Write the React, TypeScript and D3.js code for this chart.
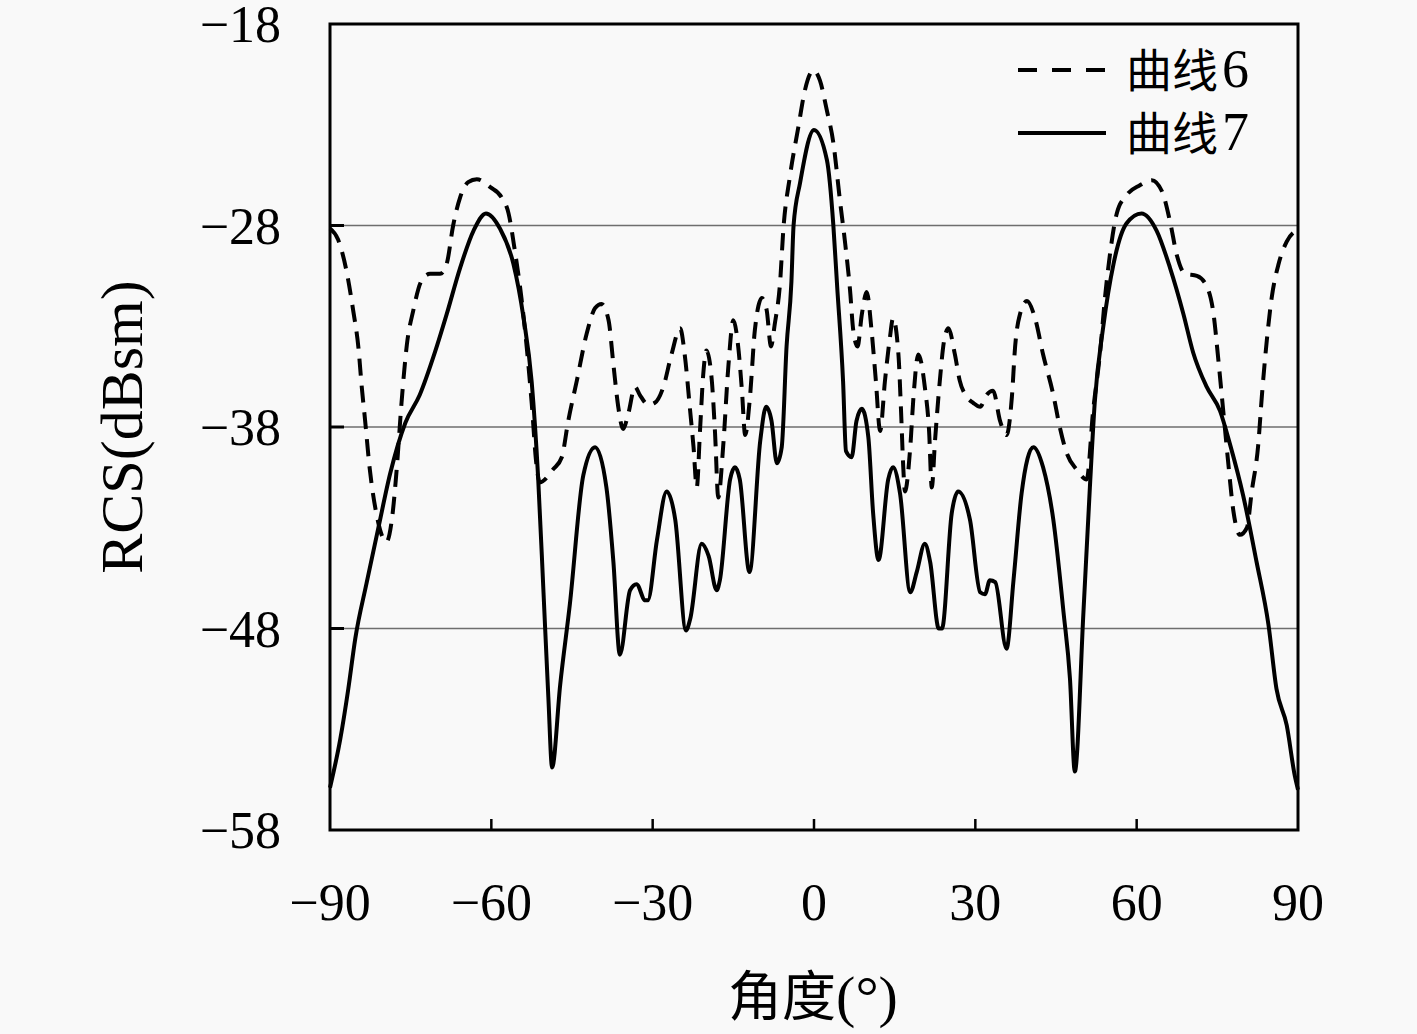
import React from "react";
import * as d3 from "d3";

const xTicks = [-90, -60, -30, 0, 30, 60, 90];
const yTicks = [-58, -48, -38, -28, -18];
const gridValues = [-28, -38, -48];

const seriesNames = ["曲线", "曲线"];
const seriesNums = ["6", "7"];

const c6Angle = [-90, -88.5, -86.9, -85.7, -84.7, -84.1, -83.5, -82.6, -81.3, -79.5, -78.5, -77.6, -76.7, -75.7, -74.5, -73, -71.4, -69.5, -68.3, -67.1, -65.8, -64.3, -62.7, -60.2, -58.1, -56.8, -55.6, -54.4, -53.4, -52.5, -51.6, -51, -48.5, -46.9, -45.7, -44.1, -42.3, -40.7, -39.5, -38.2, -37.3, -36.4, -35.5, -34.5, -33.3, -32.4, -30.8, -29.6, -28, -26.5, -24.9, -24, -23.1, -22.4, -21.8, -21.2, -20.6, -20, -19, -18.4, -17.8, -16.9, -15.9, -15, -14.1, -13.4, -12.8, -11.9, -11, -9.7, -8.8, -8, -7.3, -6.3, -5.7, -4.5, -2.9, -1.7, -0.1, 1.1, 2.4, 3.6, 4.8, 5.8, 6.7, 7.3, 8.1, 8.9, 9.8, 10.7, 11.5, 12.3, 13.2, 14.1, 14.7, 15.7, 16.2, 16.6, 16.9, 17.9, 18.5, 19.4, 20.6, 21.4, 21.9, 22.5, 23.4, 24.2, 25, 26.2, 27.1, 28.4, 29.6, 30.9, 32.1, 33.3, 34.6, 35.8, 36.8, 37.4, 38.3, 39.6, 41.1, 42.6, 44.5, 45.7, 47, 48.8, 50.7, 51.9, 53.2, 54.1, 55, 56.3, 58.1, 60.6, 62.8, 64.7, 66.2, 67.5, 69, 71.2, 73, 74.3, 75.2, 76.1, 77, 78, 79.2, 80.5, 81.4, 82.6, 83.3, 84.2, 85.1, 86.4, 87.9, 90];
const c6Value = [-28.15, -28.7, -30.3, -32.2, -34.1, -36, -37.6, -40.1, -42.4, -43.7, -42.6, -40.1, -36.8, -33.9, -32.2, -30.75, -30.4, -30.4, -29.9, -28, -26.6, -25.85, -25.7, -26.1, -26.6, -27.4, -29.3, -31.6, -34.1, -36.8, -39.9, -40.75, -40.1, -39.5, -37.7, -35.7, -33.4, -32.1, -31.9, -32.7, -34.9, -37, -38.1, -37.3, -36, -36.4, -36.9, -36.8, -36, -34.4, -33.1, -34.5, -37, -39, -41, -38.2, -35.4, -34.2, -35.7, -38.3, -41.5, -39, -34.9, -32.7, -34, -36.2, -38.4, -36.5, -33.2, -31.6, -32.2, -34, -32.9, -30.8, -28.2, -25.6, -23.1, -21.3, -20.3, -20.8, -22.3, -23.9, -26.7, -28.9, -31.2, -33.2, -34, -32.4, -31.3, -33.2, -35.7, -38.2, -35.7, -33.6, -32.6, -34.4, -37.3, -40, -41.2, -39, -36.5, -34.4, -36, -38.2, -41, -38.7, -35.7, -33.7, -33.1, -34.4, -35.7, -36.5, -36.8, -37, -36.4, -36.2, -37.7, -38.4, -36.5, -34, -32.4, -31.75, -32.6, -34.4, -36.4, -38, -39.3, -40.1, -40.6, -37.2, -34.3, -31.6, -29.5, -27.4, -26.5, -26, -25.75, -26.3, -27.8, -29.5, -30.4, -30.5, -31, -32.4, -34.7, -37.2, -39.7, -42.2, -43.35, -43, -41.2, -38.9, -36.4, -33.7, -31.6, -29.9, -28.8, -28.2];

const c7Angle = [-90, -88.1, -86.6, -85.3, -83.2, -81, -78.8, -76, -73.3, -70.5, -68.3, -65.8, -63.3, -61, -58.4, -55.9, -54, -52.5, -51.3, -50.3, -49.4, -48.7, -47.2, -45.4, -42.9, -40.7, -38.6, -37.3, -36.1, -34.2, -33, -31.4, -30.9, -29.2, -27.4, -25.8, -23.8, -23, -20.9, -19.6, -18.1, -17.5, -15.6, -14.7, -13.8, -12, -10, -8.9, -7.9, -6.9, -6, -5.1, -4.2, -3.8, -2.6, 0, 2.4, 3.6, 4.3, 5.4, 5.95, 7, 7.9, 8.9, 10.1, 11, 12, 13.8, 14.7, 16, 17.9, 19.1, 20.6, 21.6, 23.2, 23.8, 25.6, 26.8, 29, 30.9, 31.8, 32.7, 33.7, 35.8, 37.1, 38.6, 40.8, 42.6, 44.5, 46.4, 47.6, 48.5, 50.1, 51.3, 52.2, 53.8, 55.7, 58.1, 60.9, 63.7, 66.2, 68.7, 70.5, 73, 75.5, 77.4, 79.8, 82.3, 84.5, 86, 87.9, 89.4, 90];
const c7Value = [-55.9, -53.5, -51, -48.5, -45.75, -43, -40.3, -37.8, -36.4, -34.3, -32.4, -30.1, -28.25, -27.4, -28.15, -29.9, -32.6, -35.75, -40.5, -46.2, -51.4, -54.9, -50.8, -46.8, -40.4, -39, -41, -44.7, -49.3, -46.1, -45.8, -46.6, -46.6, -43.6, -41.2, -42.6, -48.1, -47.5, -43.8, -44.4, -46.1, -45.6, -40.6, -40, -40.6, -45.2, -38.7, -37, -37.7, -39.8, -39, -34, -30.8, -28, -25.9, -23.26, -24.75, -28, -31, -35.7, -39.2, -39.5, -37.7, -37.1, -38.5, -42.3, -44.6, -40.6, -40, -41.3, -46.2, -45.2, -43.8, -44.7, -48, -48, -42.3, -41.2, -42.6, -46.2, -46.3, -45.6, -45.7, -49, -45.6, -41.3, -39, -40, -42.6, -47.2, -50.5, -55.1, -47.2, -41, -36.8, -33, -29.9, -27.9, -27.4, -28.25, -30.1, -32.4, -34.3, -36, -37.2, -38.9, -41.4, -44.7, -47.8, -51, -52.8, -55.3, -56];

const W = 1417;
const H = 1034;
const L = 330;
const R = 1298;
const T = 24;
const B = 830;

const serif = "'Liberation Serif', 'DejaVu Serif', serif";
const cjk = "'Noto Sans CJK SC', sans-serif";

export default function App() {
  const x = d3.scaleLinear().domain([-90, 90]).range([L, R]);
  const y = d3.scaleLinear().domain([-58, -18]).range([B, T]);
  const line = d3
    .line<[number, number]>()
    .x((d) => x(d[0]))
    .y((d) => y(d[1]))
    .curve(d3.curveMonotoneX);
  const d6 = line(c6Angle.map((a, i) => [a, c6Value[i]] as [number, number])) || "";
  const d7 = line(c7Angle.map((a, i) => [a, c7Value[i]] as [number, number])) || "";
  const fmt = (v: number) => (v < 0 ? "\u2212" + Math.abs(v) : String(v));

  return (
    <svg
      width={W}
      height={H}
      style={{ position: "absolute", left: 0, top: 0 }}
      xmlns="http://www.w3.org/2000/svg"
    >
      <rect x={0} y={0} width={W} height={H} fill="#f9f9f9" />
      {gridValues.map((g) => (
        <line key={g} x1={L} x2={R} y1={y(g)} y2={y(g)} stroke="#6e6e6e" strokeWidth={1.6} />
      ))}
      {gridValues.map((g) => (
        <line key={"yt" + g} x1={L} x2={L + 14} y1={y(g)} y2={y(g)} stroke="#000" strokeWidth={3} />
      ))}
      {xTicks.slice(1, -1).map((t) => (
        <line key={"xt" + t} x1={x(t)} x2={x(t)} y1={B} y2={B - 11} stroke="#000" strokeWidth={2.5} />
      ))}
      <path d={d6} fill="none" stroke="#000" strokeWidth={4} strokeDasharray="17,10" />
      <path d={d7} fill="none" stroke="#000" strokeWidth={4} />
      <rect x={L} y={T} width={R - L} height={B - T} fill="none" stroke="#000" strokeWidth={3} />
      {yTicks.map((t) => (
        <text
          key={"yl" + t}
          x={281}
          y={y(t) + 18}
          textAnchor="end"
          fontFamily={serif}
          fontSize={52}
          fill="#000"
        >
          {fmt(t)}
        </text>
      ))}
      {xTicks.map((t) => (
        <text
          key={"xl" + t}
          x={x(t)}
          y={920}
          textAnchor="middle"
          fontFamily={serif}
          fontSize={52}
          fill="#000"
        >
          {fmt(t)}
        </text>
      ))}
      <text x={813} y={1016} textAnchor="middle" fill="#000">
        <tspan fontFamily={cjk} fontSize={54}>角度</tspan>
        <tspan fontFamily={serif} fontSize={58}>(°)</tspan>
      </text>
      <text
        transform={`translate(142, ${y(-38)}) rotate(-90)`}
        textAnchor="middle"
        fontFamily={serif}
        fontSize={60}
        fill="#000"
      >
        RCS(dBsm)
      </text>
      <line x1={1018} x2={1106} y1={70} y2={70} stroke="#000" strokeWidth={4} strokeDasharray="19,15" />
      <text x={1126} y={87} fill="#000">
        <tspan fontFamily={cjk} fontSize={46}>{seriesNames[0]}</tspan>
        <tspan fontFamily={serif} fontSize={54} dx={4}>{seriesNums[0]}</tspan>
      </text>
      <line x1={1018} x2={1106} y1={133} y2={133} stroke="#000" strokeWidth={4} />
      <text x={1126} y={150} fill="#000">
        <tspan fontFamily={cjk} fontSize={46}>{seriesNames[1]}</tspan>
        <tspan fontFamily={serif} fontSize={54} dx={4}>{seriesNums[1]}</tspan>
      </text>
    </svg>
  );
}
